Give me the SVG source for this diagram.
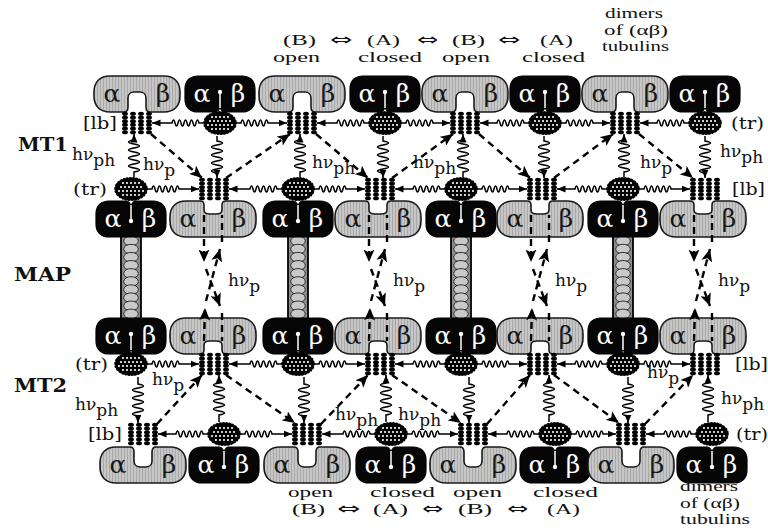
<svg xmlns="http://www.w3.org/2000/svg" width="768" height="529" viewBox="0 0 768 529">
<style>
.gr{fill:url(#gp);stroke:#1a1a1a;stroke-width:1.6}
.bk{fill:#060606;stroke:#000;stroke-width:1.2}
.gk{font-family:"DejaVu Serif","Liberation Serif",serif;font-size:25px;text-anchor:middle;fill:#161616}
.w{fill:#fff}
.t{font-family:"DejaVu Serif","DejaVu Sans","Liberation Serif",serif;font-size:17px;fill:#111}
.s{font-family:"Liberation Serif","DejaVu Serif",serif;font-size:15px;fill:#111}
.ar{font-family:"DejaVu Sans","DejaVu Serif",sans-serif;font-size:16px;fill:#111}
.sd{font-family:"DejaVu Serif","Liberation Serif",serif;font-size:19px;font-weight:bold;fill:#111}
.hv{font-family:"DejaVu Serif","Liberation Serif",serif;font-size:17px;fill:#111}
.wv{fill:none;stroke:#000;stroke-width:1.5;marker-end:url(#aw)}
.ds{fill:none;stroke:#000;stroke-width:2.4;stroke-dasharray:7 5}
.da{marker-end:url(#ad)}
</style>
<defs>
<pattern id="gp" width="3" height="4" patternUnits="userSpaceOnUse"><rect width="3" height="4" fill="#c6c6c6"/><rect width="1" height="4" fill="#a9a9a9"/></pattern>
<marker id="aw" markerUnits="userSpaceOnUse" viewBox="0 0 9 8" markerWidth="9" markerHeight="8" refX="8.5" refY="4" orient="auto"><path d="M0,0.5L8.5,4L0,7.5z" fill="#000"/></marker>
<marker id="ad" markerUnits="userSpaceOnUse" viewBox="0 0 13 11" markerWidth="13" markerHeight="11" refX="12.5" refY="5.5" orient="auto"><path d="M0,0L12.5,5.5L0,11L3,5.5z" fill="#000"/></marker>
<path id="gD" class="gr" d="M16,0H70C80,0 86,6 86,16V20C86,30 80,36 70,36H56C53,36 52,34 52,31V22C52,18 49,16 46,16H40C37,16 34,18 34,22V31C34,34 33,36 30,36H16C6,36 0,30 0,20V16C0,6 6,0 16,0Z"/>
<use id="gU" href="#gD" transform="matrix(1 0 0 -1 0 36)"/>
<path id="sD" class="gr" d="M16,0H70C80,0 86,6 86,16V20C86,30 80,36 70,36H56C53,36 52,35 52,32V27C52,24 49,23 46,23H40C37,23 34,24 34,27V32C34,35 33,36 30,36H16C6,36 0,30 0,20V16C0,6 6,0 16,0Z"/>
<use id="sU" href="#sD" transform="matrix(1 0 0 -1 0 36)"/>
<g id="bD"><path class="bk" d="M13,0H57C65,0 70,5 70,13V23C70,31 65,36 57,36H40C37.5,36 36,34 35,31C34,34 32.5,36 30,36H13C5,36 0,31 0,23V13C0,5 5,0 13,0Z"/><path d="M35,32V16" stroke="#fff" stroke-width="1.5"/><circle cx="35" cy="16" r="2.2" fill="#fff"/></g>
<use id="bU" href="#bD" transform="matrix(1 0 0 -1 0 36)"/>
<g id="lbc" fill="#000"><ellipse cy="-9.2" rx="2.9" ry="2"/><ellipse cy="-5.5" rx="2.9" ry="2"/><ellipse cy="-1.8" rx="2.9" ry="2"/><ellipse cy="1.8" rx="2.9" ry="2"/><ellipse cy="5.5" rx="2.9" ry="2"/><ellipse cy="9.2" rx="2.9" ry="2"/></g>
<g id="lb"><use href="#lbc" x="-12"/><use href="#lbc" x="-4"/><use href="#lbc" x="4"/><use href="#lbc" x="12"/></g>
<g id="tr"><ellipse rx="15" ry="10.2" fill="#000" stroke="#000" stroke-width="3.8" stroke-dasharray="0.1 3" stroke-linecap="round"/><g fill="#fff"><circle cx="-8" cy="-6" r="1.05"/><circle cx="-4" cy="-6" r="1.05"/><circle cx="0" cy="-6" r="1.05"/><circle cx="4" cy="-6" r="1.05"/><circle cx="8" cy="-6" r="1.05"/><circle cx="-10" cy="-2" r="1.05"/><circle cx="-6" cy="-2" r="1.05"/><circle cx="-2" cy="-2" r="1.05"/><circle cx="2" cy="-2" r="1.05"/><circle cx="6" cy="-2" r="1.05"/><circle cx="10" cy="-2" r="1.05"/><circle cx="-12" cy="2" r="1.05"/><circle cx="-8" cy="2" r="1.05"/><circle cx="-4" cy="2" r="1.05"/><circle cx="0" cy="2" r="1.05"/><circle cx="4" cy="2" r="1.05"/><circle cx="8" cy="2" r="1.05"/><circle cx="12" cy="2" r="1.05"/><circle cx="-8" cy="6" r="1.05"/><circle cx="-4" cy="6" r="1.05"/><circle cx="0" cy="6" r="1.05"/><circle cx="4" cy="6" r="1.05"/><circle cx="8" cy="6" r="1.05"/></g></g>
<g id="mapc"><rect x="-10" y="0" width="20" height="83" fill="#8c8c8c" stroke="#000" stroke-width="1.8"/><g fill="#c9c9c9" stroke="#222" stroke-width="0.9"><ellipse cy="5" rx="7.3" ry="4.8"/><ellipse cy="13.1" rx="7.3" ry="4.8"/><ellipse cy="21.2" rx="7.3" ry="4.8"/><ellipse cy="29.3" rx="7.3" ry="4.8"/><ellipse cy="37.4" rx="7.3" ry="4.8"/><ellipse cy="45.5" rx="7.3" ry="4.8"/><ellipse cy="53.6" rx="7.3" ry="4.8"/><ellipse cy="61.7" rx="7.3" ry="4.8"/><ellipse cy="69.8" rx="7.3" ry="4.8"/><ellipse cy="77.9" rx="7.3" ry="4.8"/></g></g>
</defs>
<rect width="768" height="529" fill="#fff"/>

<g id="maps">
<g id="map-1"><use href="#mapc" x="131" y="236"/></g>
<g id="map-2"><use href="#mapc" x="298" y="236"/></g>
<g id="map-3"><use href="#mapc" x="461" y="236"/></g>
<g id="map-4"><use href="#mapc" x="623" y="236"/></g>
</g>

<g id="row1">
<g id="r1-1" transform="translate(94,76)"><use href="#gD"/><text class="gk" x="18" y="26">α</text><text class="gk" x="69" y="26">β</text></g>
<g id="r1-2" transform="translate(185,76)"><use href="#bD"/><text class="gk w" x="17" y="26">α</text><text class="gk w" x="53" y="26">β</text></g>
<g id="r1-3" transform="translate(259,76)"><use href="#gD"/><text class="gk" x="18" y="26">α</text><text class="gk" x="69" y="26">β</text></g>
<g id="r1-4" transform="translate(350,76)"><use href="#bD"/><text class="gk w" x="17" y="26">α</text><text class="gk w" x="53" y="26">β</text></g>
<g id="r1-5" transform="translate(422,76)"><use href="#gD"/><text class="gk" x="18" y="26">α</text><text class="gk" x="69" y="26">β</text></g>
<g id="r1-6" transform="translate(510,76)"><use href="#bD"/><text class="gk w" x="17" y="26">α</text><text class="gk w" x="53" y="26">β</text></g>
<g id="r1-7" transform="translate(582,76)"><use href="#gD"/><text class="gk" x="18" y="26">α</text><text class="gk" x="69" y="26">β</text></g>
<g id="r1-8" transform="translate(670,76)"><use href="#bD"/><text class="gk w" x="17" y="26">α</text><text class="gk w" x="53" y="26">β</text></g>
</g>

<g id="row2">
<g id="r2-1" transform="translate(96,201)"><use href="#bU"/><text class="gk w" x="17" y="26">α</text><text class="gk w" x="53" y="26">β</text></g>
<g id="r2-2" transform="translate(170,201)"><use href="#sU"/><text class="gk" x="18" y="26">α</text><text class="gk" x="69" y="26">β</text></g>
<g id="r2-3" transform="translate(263,201)"><use href="#bU"/><text class="gk w" x="17" y="26">α</text><text class="gk w" x="53" y="26">β</text></g>
<g id="r2-4" transform="translate(335,201)"><use href="#sU"/><text class="gk" x="18" y="26">α</text><text class="gk" x="69" y="26">β</text></g>
<g id="r2-5" transform="translate(426,201)"><use href="#bU"/><text class="gk w" x="17" y="26">α</text><text class="gk w" x="53" y="26">β</text></g>
<g id="r2-6" transform="translate(497,201)"><use href="#sU"/><text class="gk" x="18" y="26">α</text><text class="gk" x="69" y="26">β</text></g>
<g id="r2-7" transform="translate(588,201)"><use href="#bU"/><text class="gk w" x="17" y="26">α</text><text class="gk w" x="53" y="26">β</text></g>
<g id="r2-8" transform="translate(660,201)"><use href="#sU"/><text class="gk" x="18" y="26">α</text><text class="gk" x="69" y="26">β</text></g>
</g>

<g id="row3">
<g id="r3-1" transform="translate(96,318)"><use href="#bD"/><text class="gk w" x="17" y="26">α</text><text class="gk w" x="53" y="26">β</text></g>
<g id="r3-2" transform="translate(170,318)"><use href="#sD"/><text class="gk" x="18" y="26">α</text><text class="gk" x="69" y="26">β</text></g>
<g id="r3-3" transform="translate(263,318)"><use href="#bD"/><text class="gk w" x="17" y="26">α</text><text class="gk w" x="53" y="26">β</text></g>
<g id="r3-4" transform="translate(335,318)"><use href="#sD"/><text class="gk" x="18" y="26">α</text><text class="gk" x="69" y="26">β</text></g>
<g id="r3-5" transform="translate(426,318)"><use href="#bD"/><text class="gk w" x="17" y="26">α</text><text class="gk w" x="53" y="26">β</text></g>
<g id="r3-6" transform="translate(497,318)"><use href="#sD"/><text class="gk" x="18" y="26">α</text><text class="gk" x="69" y="26">β</text></g>
<g id="r3-7" transform="translate(588,318)"><use href="#bD"/><text class="gk w" x="17" y="26">α</text><text class="gk w" x="53" y="26">β</text></g>
<g id="r3-8" transform="translate(660,318)"><use href="#sD"/><text class="gk" x="18" y="26">α</text><text class="gk" x="69" y="26">β</text></g>
</g>

<g id="row4">
<g id="r4-1" transform="translate(100,447)"><use href="#gU"/><text class="gk" x="18" y="26">α</text><text class="gk" x="69" y="26">β</text></g>
<g id="r4-2" transform="translate(189,447)"><use href="#bU"/><text class="gk w" x="17" y="26">α</text><text class="gk w" x="53" y="26">β</text></g>
<g id="r4-3" transform="translate(264,447)"><use href="#gU"/><text class="gk" x="18" y="26">α</text><text class="gk" x="69" y="26">β</text></g>
<g id="r4-4" transform="translate(356,447)"><use href="#bU"/><text class="gk w" x="17" y="26">α</text><text class="gk w" x="53" y="26">β</text></g>
<g id="r4-5" transform="translate(430,447)"><use href="#gU"/><text class="gk" x="18" y="26">α</text><text class="gk" x="69" y="26">β</text></g>
<g id="r4-6" transform="translate(520,447)"><use href="#bU"/><text class="gk w" x="17" y="26">α</text><text class="gk w" x="53" y="26">β</text></g>
<g id="r4-7" transform="translate(588,447)"><use href="#gU"/><text class="gk" x="18" y="26">α</text><text class="gk" x="69" y="26">β</text></g>
<g id="r4-8" transform="translate(677,447)"><use href="#bU"/><text class="gk w" x="17" y="26">α</text><text class="gk w" x="53" y="26">β</text></g>
</g>

<g id="carriers">
<g id="lb1-1"><use href="#lb" x="137" y="123"/></g>
<g id="tr1-1"><use href="#tr" x="220" y="123"/></g>
<g id="lb1-2"><use href="#lb" x="302" y="123"/></g>
<g id="tr1-2"><use href="#tr" x="385" y="123"/></g>
<g id="lb1-3"><use href="#lb" x="465" y="123"/></g>
<g id="tr1-3"><use href="#tr" x="545" y="123"/></g>
<g id="lb1-4"><use href="#lb" x="625" y="123"/></g>
<g id="tr1-4"><use href="#tr" x="705" y="123"/></g>

<g id="tr2-1"><use href="#tr" x="131" y="189"/></g>
<g id="lb2-1"><use href="#lb" x="214" y="189"/></g>
<g id="tr2-2"><use href="#tr" x="298" y="189"/></g>
<g id="lb2-2"><use href="#lb" x="380" y="189"/></g>
<g id="tr2-3"><use href="#tr" x="461" y="189"/></g>
<g id="lb2-3"><use href="#lb" x="542" y="189"/></g>
<g id="tr2-4"><use href="#tr" x="623" y="189"/></g>
<g id="lb2-4"><use href="#lb" x="705" y="189"/></g>

<g id="tr3-1"><use href="#tr" x="131" y="364"/></g>
<g id="lb3-1"><use href="#lb" x="214" y="364"/></g>
<g id="tr3-2"><use href="#tr" x="298" y="364"/></g>
<g id="lb3-2"><use href="#lb" x="380" y="364"/></g>
<g id="tr3-3"><use href="#tr" x="461" y="364"/></g>
<g id="lb3-3"><use href="#lb" x="542" y="364"/></g>
<g id="tr3-4"><use href="#tr" x="623" y="364"/></g>
<g id="lb3-4"><use href="#lb" x="705" y="364"/></g>

<g id="lb4-1"><use href="#lb" x="143" y="434"/></g>
<g id="tr4-1"><use href="#tr" x="224" y="434"/></g>
<g id="lb4-2"><use href="#lb" x="307" y="434"/></g>
<g id="tr4-2"><use href="#tr" x="391" y="434"/></g>
<g id="lb4-3"><use href="#lb" x="473" y="434"/></g>
<g id="tr4-3"><use href="#tr" x="555" y="434"/></g>
<g id="lb4-4"><use href="#lb" x="631" y="434"/></g>
<g id="tr4-4"><use href="#tr" x="712" y="434"/></g>
</g>

<g id="connectors">
<path class="wv" d="M204,123h-5q-1.5,-6 -3,0t-3,0t-3,0t-3,0t-3,0t-3,0t-3,0t-3,0t-3,0H152"/>
<path class="wv" d="M236,123h5q1.5,-6 3,0t3,0t3,0t3,0t3,0t3,0t3,0t3,0t3,0H287"/>
<path class="wv" d="M369,123h-5q-1.5,-6 -3,0t-3,0t-3,0t-3,0t-3,0t-3,0t-3,0t-3,0t-3,0H317"/>
<path class="wv" d="M401,123h5q1.5,-6 3,0t3,0t3,0t3,0t3,0t3,0t3,0t3,0t3,0H450"/>
<path class="wv" d="M529,123h-5q-1.5,-6 -3,0t-3,0t-3,0t-3,0t-3,0t-3,0t-3,0t-3,0t-3,0H480"/>
<path class="wv" d="M561,123h5q1.5,-6 3,0t3,0t3,0t3,0t3,0t3,0t3,0t3,0t3,0H610"/>
<path class="wv" d="M689,123h-5q-1.5,-6 -3,0t-3,0t-3,0t-3,0t-3,0t-3,0t-3,0t-3,0t-3,0H640"/>

<path class="wv" d="M147,189h5q1.5,-6 3,0t3,0t3,0t3,0t3,0t3,0t3,0t3,0t3,0H199"/>
<path class="wv" d="M282,189h-5q-1.5,-6 -3,0t-3,0t-3,0t-3,0t-3,0t-3,0t-3,0t-3,0t-3,0H229"/>
<path class="wv" d="M314,189h5q1.5,-6 3,0t3,0t3,0t3,0t3,0t3,0t3,0t3,0t3,0H365"/>
<path class="wv" d="M445,189h-5q-1.5,-6 -3,0t-3,0t-3,0t-3,0t-3,0t-3,0t-3,0t-3,0t-3,0H395"/>
<path class="wv" d="M477,189h5q1.5,-6 3,0t3,0t3,0t3,0t3,0t3,0t3,0t3,0t3,0H527"/>
<path class="wv" d="M607,189h-5q-1.5,-6 -3,0t-3,0t-3,0t-3,0t-3,0t-3,0t-3,0t-3,0t-3,0H557"/>
<path class="wv" d="M639,189h5q1.5,-6 3,0t3,0t3,0t3,0t3,0t3,0t3,0t3,0t3,0H690"/>

<path class="wv" d="M147,364h5q1.5,-6 3,0t3,0t3,0t3,0t3,0t3,0t3,0t3,0t3,0H199"/>
<path class="wv" d="M282,364h-5q-1.5,-6 -3,0t-3,0t-3,0t-3,0t-3,0t-3,0t-3,0t-3,0t-3,0H229"/>
<path class="wv" d="M314,364h5q1.5,-6 3,0t3,0t3,0t3,0t3,0t3,0t3,0t3,0t3,0H365"/>
<path class="wv" d="M445,364h-5q-1.5,-6 -3,0t-3,0t-3,0t-3,0t-3,0t-3,0t-3,0t-3,0t-3,0H395"/>
<path class="wv" d="M477,364h5q1.5,-6 3,0t3,0t3,0t3,0t3,0t3,0t3,0t3,0t3,0H527"/>
<path class="wv" d="M607,364h-5q-1.5,-6 -3,0t-3,0t-3,0t-3,0t-3,0t-3,0t-3,0t-3,0t-3,0H557"/>
<path class="wv" d="M639,364h5q1.5,-6 3,0t3,0t3,0t3,0t3,0t3,0t3,0t3,0t3,0H690"/>

<path class="wv" d="M208,434h-5q-1.5,-6 -3,0t-3,0t-3,0t-3,0t-3,0t-3,0t-3,0t-3,0t-3,0H158"/>
<path class="wv" d="M240,434h5q1.5,-6 3,0t3,0t3,0t3,0t3,0t3,0t3,0t3,0t3,0H292"/>
<path class="wv" d="M375,434h-5q-1.5,-6 -3,0t-3,0t-3,0t-3,0t-3,0t-3,0t-3,0t-3,0t-3,0H322"/>
<path class="wv" d="M407,434h5q1.5,-6 3,0t3,0t3,0t3,0t3,0t3,0t3,0t3,0t3,0H458"/>
<path class="wv" d="M539,434h-5q-1.5,-6 -3,0t-3,0t-3,0t-3,0t-3,0t-3,0t-3,0t-3,0t-3,0H488"/>
<path class="wv" d="M571,434h5q1.5,-6 3,0t3,0t3,0t3,0t3,0t3,0t3,0t3,0t3,0H616"/>
<path class="wv" d="M696,434h-5q-1.5,-6 -3,0t-3,0t-3,0t-3,0t-3,0t-3,0t-3,0t-3,0t-3,0H646"/>

<path class="wv" d="M217,136v5q11,2 0,4t0,4t0,4t0,4t0,4t0,4t0,4t0,4V178"/>
<path class="wv" d="M383,136v5q11,2 0,4t0,4t0,4t0,4t0,4t0,4t0,4t0,4V178"/>
<path class="wv" d="M544,136v5q11,2 0,4t0,4t0,4t0,4t0,4t0,4t0,4t0,4V178"/>
<path class="wv" d="M705,136v5q11,2 0,4t0,4t0,4t0,4t0,4t0,4t0,4t0,4V178"/>
<path class="wv" d="M134,177v-5q11,-2 0,-4t0,-4t0,-4t0,-4t0,-4t0,-4t0,-4t0,-4V134"/>
<path class="wv" d="M300,177v-5q11,-2 0,-4t0,-4t0,-4t0,-4t0,-4t0,-4t0,-4t0,-4V134"/>
<path class="wv" d="M463,177v-5q11,-2 0,-4t0,-4t0,-4t0,-4t0,-4t0,-4t0,-4t0,-4V134"/>
<path class="wv" d="M624,177v-5q11,-2 0,-4t0,-4t0,-4t0,-4t0,-4t0,-4t0,-4t0,-4V134"/>

<path class="wv" d="M138,377v7q11,2 0,4t0,4t0,4t0,4t0,4t0,4t0,4t0,4V423"/>
<path class="wv" d="M304,377v7q11,2 0,4t0,4t0,4t0,4t0,4t0,4t0,4t0,4V423"/>
<path class="wv" d="M469,377v7q11,2 0,4t0,4t0,4t0,4t0,4t0,4t0,4t0,4V423"/>
<path class="wv" d="M628,377v7q11,2 0,4t0,4t0,4t0,4t0,4t0,4t0,4t0,4V423"/>
<path class="wv" d="M219,422v-7q11,-2 0,-4t0,-4t0,-4t0,-4t0,-4t0,-4t0,-4t0,-4V375"/>
<path class="wv" d="M386,422v-7q11,-2 0,-4t0,-4t0,-4t0,-4t0,-4t0,-4t0,-4t0,-4V375"/>
<path class="wv" d="M549,422v-7q11,-2 0,-4t0,-4t0,-4t0,-4t0,-4t0,-4t0,-4t0,-4V375"/>
<path class="wv" d="M708,422v-7q11,-2 0,-4t0,-4t0,-4t0,-4t0,-4t0,-4t0,-4t0,-4V375"/>

<line class="ds da" x1="151" y1="134" x2="202" y2="178"/>
<line class="ds da" x1="226" y1="178" x2="290" y2="134"/>
<line class="ds da" x1="316" y1="134" x2="368" y2="178"/>
<line class="ds da" x1="392" y1="178" x2="453" y2="134"/>
<line class="ds da" x1="479" y1="134" x2="530" y2="178"/>
<line class="ds da" x1="554" y1="178" x2="613" y2="134"/>
<line class="ds da" x1="639" y1="134" x2="693" y2="178"/>

<line class="ds da" x1="157" y1="424" x2="202" y2="375"/>
<line class="ds da" x1="226" y1="375" x2="295" y2="423"/>
<line class="ds da" x1="321" y1="424" x2="368" y2="375"/>
<line class="ds da" x1="392" y1="375" x2="461" y2="423"/>
<line class="ds da" x1="487" y1="424" x2="530" y2="375"/>
<line class="ds da" x1="554" y1="375" x2="619" y2="423"/>
<line class="ds da" x1="645" y1="424" x2="693" y2="375"/>

<line class="ds da" x1="204" y1="215" x2="204" y2="262"/>
<line class="ds da" x1="206" y1="269" x2="220" y2="306"/>
<line class="ds" x1="222" y1="313" x2="222" y2="341"/>
<line class="ds da" x1="204" y1="341" x2="205" y2="308"/>
<line class="ds da" x1="206" y1="301" x2="220" y2="249"/>
<line class="ds" x1="222" y1="242" x2="222" y2="215"/>

<line class="ds da" x1="369" y1="215" x2="369" y2="262"/>
<line class="ds da" x1="371" y1="269" x2="385" y2="306"/>
<line class="ds" x1="387" y1="313" x2="387" y2="341"/>
<line class="ds da" x1="369" y1="341" x2="370" y2="308"/>
<line class="ds da" x1="371" y1="301" x2="385" y2="249"/>
<line class="ds" x1="387" y1="242" x2="387" y2="215"/>

<line class="ds da" x1="531" y1="215" x2="531" y2="262"/>
<line class="ds da" x1="533" y1="269" x2="547" y2="306"/>
<line class="ds" x1="549" y1="313" x2="549" y2="341"/>
<line class="ds da" x1="531" y1="341" x2="532" y2="308"/>
<line class="ds da" x1="533" y1="301" x2="547" y2="249"/>
<line class="ds" x1="549" y1="242" x2="549" y2="215"/>

<line class="ds da" x1="694" y1="215" x2="694" y2="262"/>
<line class="ds da" x1="696" y1="269" x2="710" y2="306"/>
<line class="ds" x1="712" y1="313" x2="712" y2="341"/>
<line class="ds da" x1="694" y1="341" x2="695" y2="308"/>
<line class="ds da" x1="696" y1="301" x2="710" y2="249"/>
<line class="ds" x1="712" y1="242" x2="712" y2="215"/>
</g>

<g id="labels">
<text class="s" x="283" y="45" textLength="33" lengthAdjust="spacingAndGlyphs">(B)</text>
<text class="ar" x="330" y="45" textLength="22" lengthAdjust="spacingAndGlyphs">⇔</text>
<text class="s" x="367" y="45" textLength="33" lengthAdjust="spacingAndGlyphs">(A)</text>
<text class="ar" x="417" y="45" textLength="21" lengthAdjust="spacingAndGlyphs">⇔</text>
<text class="s" x="452" y="45" textLength="33" lengthAdjust="spacingAndGlyphs">(B)</text>
<text class="ar" x="498" y="45" textLength="22" lengthAdjust="spacingAndGlyphs">⇔</text>
<text class="s" x="540" y="45" textLength="33" lengthAdjust="spacingAndGlyphs">(A)</text>
<text class="s" x="273" y="61.7" textLength="47" lengthAdjust="spacingAndGlyphs">open</text>
<text class="s" x="358" y="61.7" textLength="64" lengthAdjust="spacingAndGlyphs">closed</text>
<text class="s" x="442" y="61.7" textLength="48" lengthAdjust="spacingAndGlyphs">open</text>
<text class="s" x="522" y="61.7" textLength="63" lengthAdjust="spacingAndGlyphs">closed</text>
<text class="s" x="605" y="18" textLength="58" lengthAdjust="spacingAndGlyphs">dimers</text>
<text class="s" x="604" y="34.7" textLength="64" lengthAdjust="spacingAndGlyphs">of (αβ)</text>
<text class="s" x="602" y="51.4" textLength="67" lengthAdjust="spacingAndGlyphs">tubulins</text>

<text class="s" x="288" y="497" textLength="45" lengthAdjust="spacingAndGlyphs">open</text>
<text class="s" x="370" y="497" textLength="65" lengthAdjust="spacingAndGlyphs">closed</text>
<text class="s" x="453" y="497" textLength="49" lengthAdjust="spacingAndGlyphs">open</text>
<text class="s" x="533" y="497" textLength="65" lengthAdjust="spacingAndGlyphs">closed</text>
<text class="s" x="292" y="513.7" textLength="33" lengthAdjust="spacingAndGlyphs">(B)</text>
<text class="ar" x="337" y="513.7" textLength="23" lengthAdjust="spacingAndGlyphs">⇔</text>
<text class="s" x="373" y="513.7" textLength="35" lengthAdjust="spacingAndGlyphs">(A)</text>
<text class="ar" x="422" y="513.7" textLength="21" lengthAdjust="spacingAndGlyphs">⇔</text>
<text class="s" x="458" y="513.7" textLength="34" lengthAdjust="spacingAndGlyphs">(B)</text>
<text class="ar" x="507" y="513.7" textLength="21" lengthAdjust="spacingAndGlyphs">⇔</text>
<text class="s" x="547" y="513.7" textLength="33" lengthAdjust="spacingAndGlyphs">(A)</text>
<text class="s" x="680" y="491" textLength="58" lengthAdjust="spacingAndGlyphs">dimers</text>
<text class="s" x="680" y="507.7" textLength="60" lengthAdjust="spacingAndGlyphs">of (αβ)</text>
<text class="s" x="680" y="524.4" textLength="70" lengthAdjust="spacingAndGlyphs">tubulins</text>

<text class="sd" x="18" y="151" textLength="50" lengthAdjust="spacingAndGlyphs">MT1</text>
<text class="sd" x="14" y="281" textLength="57" lengthAdjust="spacingAndGlyphs">MAP</text>
<text class="sd" x="14" y="392" textLength="53" lengthAdjust="spacingAndGlyphs">MT2</text>

<text class="t" x="83" y="129" textLength="34" lengthAdjust="spacingAndGlyphs">[lb]</text>
<text class="t" x="73" y="195" textLength="34" lengthAdjust="spacingAndGlyphs">(tr)</text>
<text class="t" x="731" y="129" textLength="33" lengthAdjust="spacingAndGlyphs">(tr)</text>
<text class="t" x="732" y="195" textLength="33" lengthAdjust="spacingAndGlyphs">[lb]</text>
<text class="t" x="75" y="370" textLength="33" lengthAdjust="spacingAndGlyphs">(tr)</text>
<text class="t" x="88" y="440" textLength="34" lengthAdjust="spacingAndGlyphs">[lb]</text>
<text class="t" x="735" y="370" textLength="33" lengthAdjust="spacingAndGlyphs">[lb]</text>
<text class="t" x="736" y="440" textLength="32" lengthAdjust="spacingAndGlyphs">(tr)</text>

<text class="hv" x="72" y="160">hν<tspan dy="6">ph</tspan></text>
<text class="hv" x="143" y="170">hν<tspan dy="6">p</tspan></text>
<text class="hv" x="312" y="168">hν<tspan dy="6">ph</tspan></text>
<text class="hv" x="413" y="168">hν<tspan dy="6">ph</tspan></text>
<text class="hv" x="640" y="168">hν<tspan dy="6">p</tspan></text>
<text class="hv" x="720" y="157">hν<tspan dy="6">ph</tspan></text>

<text class="hv" x="228" y="286">hν<tspan dy="6">p</tspan></text>
<text class="hv" x="393" y="286">hν<tspan dy="6">p</tspan></text>
<text class="hv" x="555" y="286">hν<tspan dy="6">p</tspan></text>
<text class="hv" x="718" y="286">hν<tspan dy="6">p</tspan></text>

<text class="hv" x="152" y="385">hν<tspan dy="6">p</tspan></text>
<text class="hv" x="75" y="410">hν<tspan dy="6">ph</tspan></text>
<text class="hv" x="335" y="420">hν<tspan dy="6">ph</tspan></text>
<text class="hv" x="398" y="420">hν<tspan dy="6">ph</tspan></text>
<text class="hv" x="647" y="378">hν<tspan dy="6">p</tspan></text>
<text class="hv" x="721" y="404">hν<tspan dy="6">ph</tspan></text>
</g>
</svg>
